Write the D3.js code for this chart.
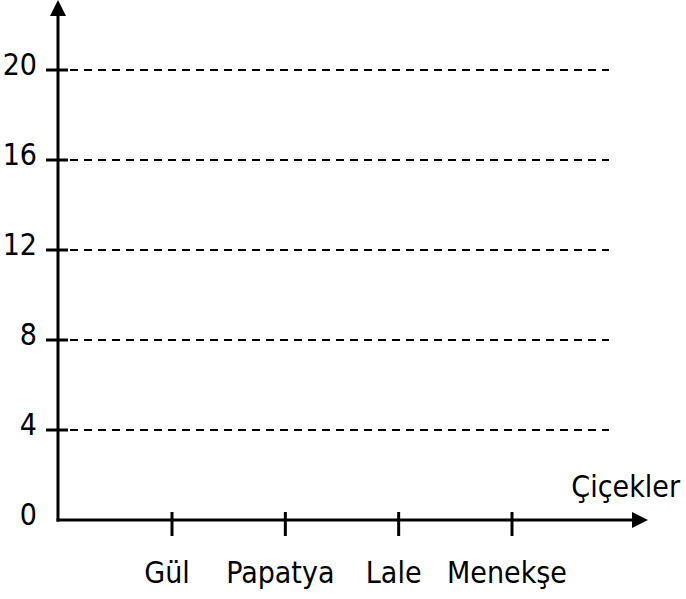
<!DOCTYPE html>
<html>
<head>
<meta charset="utf-8">
<script src="https://cdn.jsdelivr.net/npm/d3@7"></script>
<style>
  html, body { margin: 0; padding: 0; background: #fff; }
  svg { display: block; }
  text { font-family: "DejaVu Sans Condensed", "DejaVu Sans", sans-serif; font-size: 30px; fill: #000; }
</style>
</head>
<body>
<svg id="chart" width="686" height="599"></svg>
<script>
const categories = ["Gül", "Papatya", "Lale", "Menekşe"];
const yTickValues = [0, 4, 8, 12, 16, 20];
const yTickLabels = ["0", "4", "8", "12", "16", "20"];
const xAxisTitle = "Çiçekler";

const svg = d3.select("#chart");
const originX = 58, originY = 520;
const y = d3.scaleLinear().domain([0, 20]).range([originY, 70]);
const x = d3.scalePoint().domain(categories).range([172, 512]);

// gridlines
svg.append("g").selectAll("line")
  .data(yTickValues.filter(v => v > 0))
  .join("line")
  .attr("x1", 70).attr("x2", 609)
  .attr("y1", d => y(d)).attr("y2", d => y(d))
  .attr("stroke", "#000").attr("stroke-width", 2)
  .attr("stroke-dasharray", "8,6");

// y axis
svg.append("line")
  .attr("x1", originX).attr("x2", originX)
  .attr("y1", originY + 1.5).attr("y2", 14)
  .attr("stroke", "#000").attr("stroke-width", 3);
svg.append("path")
  .attr("d", `M${originX},0 L${originX - 8},16 L${originX + 8},16 Z`)
  .attr("fill", "#000");

// x axis
svg.append("line")
  .attr("x1", originX - 1.5).attr("x2", 634)
  .attr("y1", originY).attr("y2", originY)
  .attr("stroke", "#000").attr("stroke-width", 3);
svg.append("path")
  .attr("d", `M648,${originY} L632,${originY - 8} L632,${originY + 8} Z`)
  .attr("fill", "#000");

// y ticks
svg.append("g").selectAll("line")
  .data(yTickValues.filter(v => v > 0))
  .join("line")
  .attr("x1", 46).attr("x2", 68)
  .attr("y1", d => y(d)).attr("y2", d => y(d))
  .attr("stroke", "#000").attr("stroke-width", 3);

// y labels
svg.append("g").selectAll("text")
  .data(yTickValues)
  .join("text")
  .attr("x", 37)
  .attr("y", d => y(d) + 5)
  .attr("text-anchor", "end")
  .text((d, i) => yTickLabels[i]);

// x ticks
svg.append("g").selectAll("line")
  .data(categories)
  .join("line")
  .attr("x1", d => x(d)).attr("x2", d => x(d))
  .attr("y1", originY - 8).attr("y2", originY + 16)
  .attr("stroke", "#000").attr("stroke-width", 3);

// x labels
svg.append("g").selectAll("text")
  .data(categories)
  .join("text")
  .attr("x", d => x(d) - 5)
  .attr("y", 583)
  .attr("text-anchor", "middle")
  .text(d => d);

// x axis title
svg.append("text")
  .attr("x", 680).attr("y", 497)
  .attr("text-anchor", "end")
  .text(xAxisTitle);
</script>
</body>
</html>
